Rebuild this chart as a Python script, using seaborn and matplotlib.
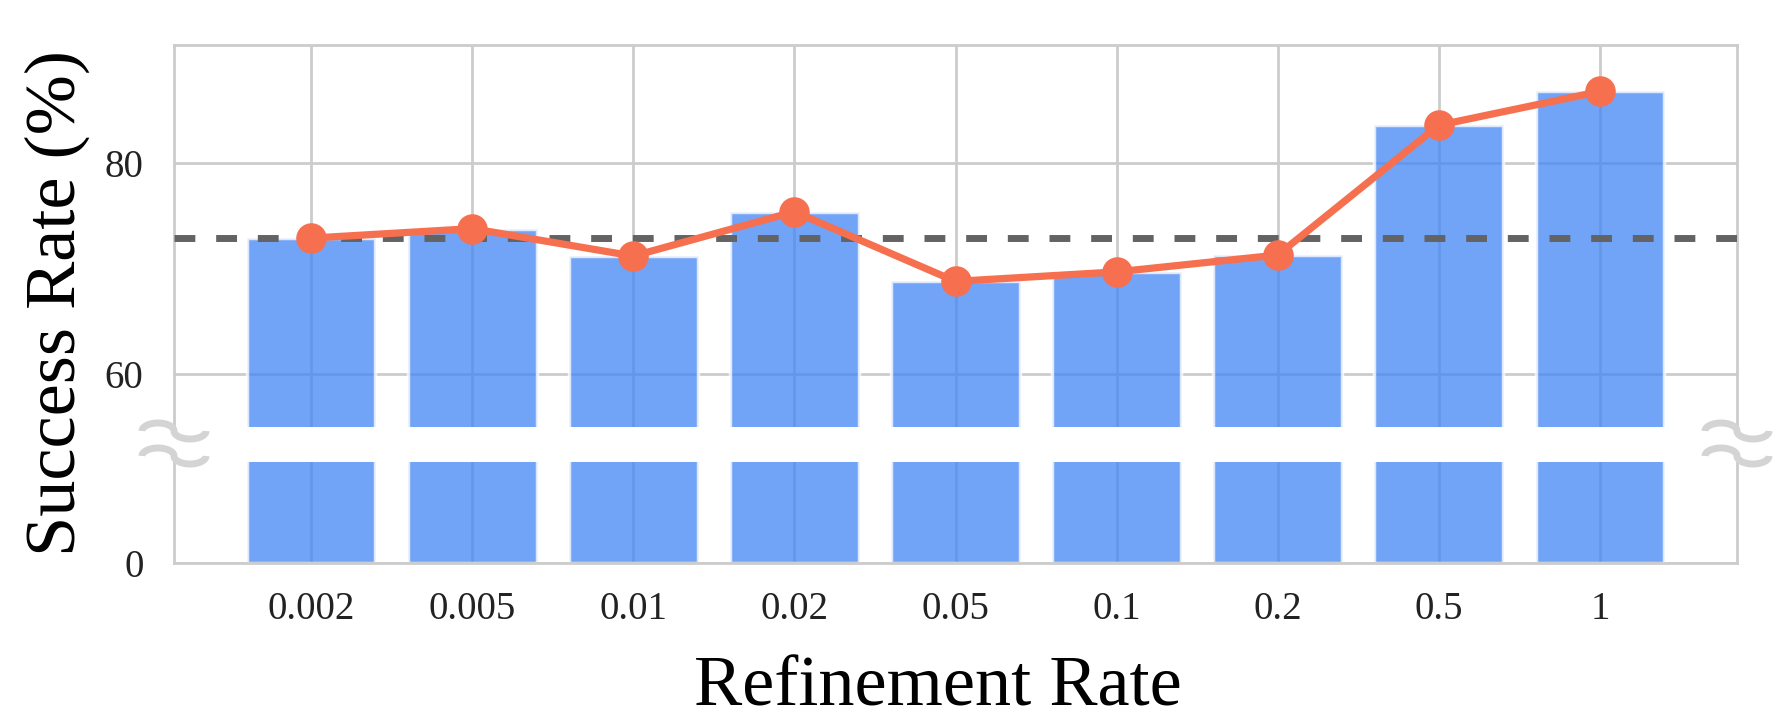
import numpy as np
import pandas as pd
import matplotlib
matplotlib.use("Agg")
import matplotlib.pyplot as plt
import seaborn as sns

# values
rates = ["0.002", "0.005", "0.01", "0.02", "0.05", "0.1", "0.2", "0.5", "1"]
success = [72.9, 73.8, 71.2, 75.4, 68.8, 69.7, 71.3, 83.6, 86.8]
baseline = 72.9

top_ylim = (55, 91.2)
bottom_ylim = (0, 10)
top_ticks = [60, 80]
bottom_ticks = [0]

df = pd.DataFrame({"rate": rates, "success": success, "pos": np.arange(len(rates))})

sns.set_theme(style="whitegrid")
plt.rcParams["font.family"] = ["Liberation Serif", "DejaVu Serif"]
plt.rcParams["axes.edgecolor"] = "#cccccc"
plt.rcParams["grid.color"] = "#cccccc"

W, H = 1782, 722
fig = plt.figure(figsize=(W / 100, H / 100), dpi=100)

left, right = 174 / W, 1737 / W
ax_top = fig.add_axes([left, 1 - 427 / H, right - left, (427 - 45) / H])
ax_bot = fig.add_axes([left, 1 - 563 / H, right - left, (563 - 462) / H])

bar_color = "#4285F4"
line_color = "#F67050"

for ax in (ax_top, ax_bot):
    sns.barplot(data=df, x="rate", y="success", ax=ax, color=bar_color,
                saturation=1, alpha=0.75, edgecolor="white", linewidth=2.5,
                width=0.8, zorder=2)
    ax.set_xlim(-0.85, len(rates) - 0.15)
    ax.grid(True, linewidth=2, color="#cccccc", zorder=0)
    ax.set_axisbelow(True)
    for s in ax.spines.values():
        s.set_linewidth(2)
        s.set_color("#cccccc")
    ax.set_xlabel("")
    ax.set_ylabel("")
    ax.tick_params(axis="both", length=0, labelsize=28, colors="#222222")
    ax.tick_params(axis="y", pad=22)
    ax.tick_params(axis="x", pad=20)

# top part: line + baseline
ax_top.set_ylim(*top_ylim)
ax_top.set_yticks(top_ticks)
sns.lineplot(data=df, x="pos", y="success", ax=ax_top, color=line_color,
             linewidth=5.2, marker="o", markersize=22, markeredgewidth=0,
             zorder=4, legend=False)
ax_top.axhline(baseline, color="#636363", linewidth=5, dashes=(3, 3), zorder=3)
ax_top.set_xlim(-0.85, len(rates) - 0.15)
ax_top.set_xlabel("")
ax_top.set_ylabel("")
ax_top.spines["bottom"].set_visible(False)
ax_top.tick_params(axis="x", labelbottom=False)

# bottom part
ax_bot.set_ylim(*bottom_ylim)
ax_bot.set_yticks(bottom_ticks)
ax_bot.spines["top"].set_visible(False)

# break marks (two stacked tildes) on both spines, in pixel coords (y down)
def tilde(xc, yc, w=32, a=8):
    th1 = np.linspace(np.pi, 0, 40)
    th2 = np.linspace(np.pi, 2 * np.pi, 40)
    xs = np.concatenate([xc - w / 2 + (w / 2) * np.cos(th1),
                         xc + w / 2 + (w / 2) * np.cos(th2)])
    ys = np.concatenate([yc - a * np.sin(th1), yc - a * np.sin(th2)])
    return xs / W, 1 - ys / H

for xc in (174, 1737):
    for yc in (431, 456):
        xs, ys = tilde(xc, yc)
        fig.add_artist(plt.Line2D(xs, ys, transform=fig.transFigure,
                                  color="#d4d4d4", linewidth=5,
                                  solid_capstyle="butt"))

fig.text(57 / W, 0.58, "Success Rate (%)", rotation=90, ha="center",
         va="center", fontsize=52, color="black")
fig.text(938 / W, 1 - 706 / H, "Refinement Rate", ha="center",
         va="baseline", fontsize=52, color="black")

fig.savefig("out.png", dpi=100)
